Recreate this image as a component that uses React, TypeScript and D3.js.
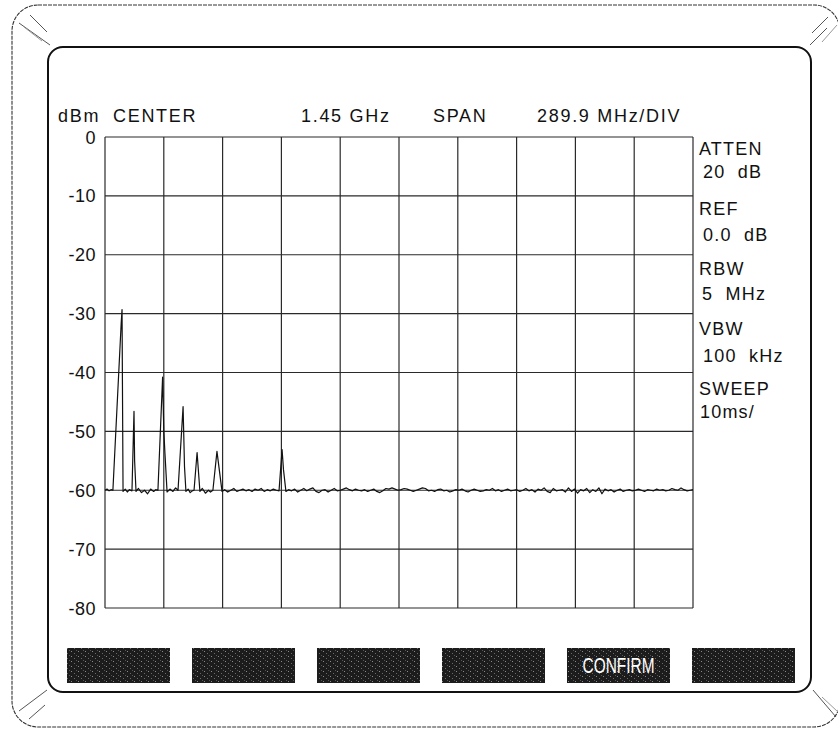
import React from "react";
import * as d3 from "d3";

// ---- data ----
const levelTicks = [0, -10, -20, -30, -40, -50, -60, -70, -80];
const freqDivisions = [0, 1, 2, 3, 4, 5, 6, 7, 8, 9, 10];
const spanPerDivMHz = 289.9;
const headerTexts = [
  { label: "dBm", x: 58 },
  { label: "CENTER", x: 113 },
  { label: "1.45 GHz", x: 301 },
  { label: "SPAN", x: 433 },
  { label: "289.9 MHz/DIV", x: 537 },
];
const sideLabels = [
  { label: "ATTEN", y: 155, indent: 0 },
  { label: "20  dB", y: 178, indent: 4 },
  { label: "REF", y: 215, indent: 0 },
  { label: "0.0  dB", y: 241, indent: 4 },
  { label: "RBW", y: 275, indent: 0 },
  { label: "5  MHz", y: 300, indent: 3 },
  { label: "VBW", y: 335, indent: 0 },
  { label: "100  kHz", y: 362, indent: 4 },
  { label: "SWEEP", y: 395, indent: 0 },
  { label: "10ms/", y: 418, indent: 1 },
];
const softKeys = ["", "", "", "", "CONFIRM", ""];

// trace: [frequency MHz, level dBm]
const trace: [number, number][] = [
  [0, -60.0], [10, -59.8], [20, -60.1], [30, -59.9], [39, -60.0], [80, -31.5], [84, -29.3], [86, -42], [89, -60.2],
  [100, -59.8], [110, -60.3], [120, -59.9], [133, -60.1], [143, -46.6], [146, -55], [153, -60.2], [165, -59.7],
  [180, -60.4], [195, -60.0], [210, -60.6], [225, -59.8], [240, -60.2], [250, -59.9], [261, -60.0], [284, -40.8],
  [290, -50], [296, -54], [306, -60.3], [320, -59.8], [335, -60.2], [348, -59.6], [360, -60.0], [385, -45.8],
  [392, -56], [399, -60.2], [410, -59.8], [420, -60.4], [430, -60.1], [439, -60.0], [454, -53.6], [468, -60.2],
  [480, -59.7], [495, -60.5], [510, -60.0], [520, -60.3], [532, -60.0], [552, -53.4], [577, -60.2], [590, -59.9],
  [605, -60.3], [620, -60.0], [635, -59.7], [650, -60.2], [665, -60.0], [680, -59.8], [695, -60.1], [710, -59.9],
  [725, -60.2], [740, -59.8], [755, -60.0], [770, -59.7], [785, -60.2], [800, -59.9], [815, -60.1], [830, -59.8],
  [845, -60.0], [858, -60.1], [873, -53.1], [880, -56.5], [892, -60.2], [905, -59.9], [920, -60.1], [935, -59.8],
  [950, -60.3], [965, -60.0], [980, -59.7], [995, -60.1], [1010, -59.8], [1025, -59.6], [1040, -60.2], [1055, -60.4],
  [1070, -60.0], [1085, -59.9], [1100, -60.3], [1115, -60.0], [1130, -59.7], [1145, -60.1], [1160, -60.0], [1175, -59.8],
  [1190, -59.6], [1205, -59.9], [1220, -60.1], [1235, -59.8], [1250, -60.0], [1265, -60.1], [1280, -59.9], [1295, -60.2],
  [1310, -60.0], [1325, -59.8], [1340, -60.2], [1355, -60.4], [1370, -60.1], [1385, -59.7], [1400, -59.8], [1415, -59.6],
  [1430, -59.8], [1445, -60.0], [1460, -59.9], [1475, -59.7], [1490, -59.8], [1505, -60.0], [1520, -60.2], [1535, -60.0],
  [1550, -59.8], [1565, -59.6], [1580, -59.7], [1595, -60.1], [1610, -60.0], [1625, -60.2], [1640, -59.9], [1655, -59.8],
  [1670, -60.1], [1685, -60.0], [1700, -60.3], [1715, -60.1], [1730, -59.9], [1745, -60.0], [1760, -59.8], [1775, -60.1],
  [1790, -60.3], [1805, -60.0], [1820, -59.8], [1835, -60.0], [1850, -60.2], [1865, -60.1], [1880, -59.9], [1895, -60.0],
  [1910, -59.7], [1925, -60.1], [1940, -59.9], [1955, -60.2], [1970, -60.0], [1985, -59.8], [2000, -60.1], [2015, -60.0],
  [2030, -59.9], [2045, -60.2], [2060, -60.0], [2075, -59.7], [2090, -60.1], [2105, -59.9], [2120, -60.3], [2135, -59.8],
  [2150, -60.0], [2165, -59.6], [2180, -60.2], [2195, -60.4], [2210, -59.7], [2225, -60.1], [2240, -60.0], [2255, -59.9],
  [2270, -60.3], [2285, -59.6], [2300, -60.2], [2315, -59.8], [2330, -60.5], [2345, -59.9], [2360, -60.1], [2375, -59.7],
  [2390, -60.4], [2405, -59.9], [2420, -60.2], [2435, -59.6], [2450, -60.6], [2465, -59.8], [2480, -60.1], [2495, -59.9],
  [2510, -60.3], [2525, -60.0], [2540, -59.8], [2555, -60.2], [2570, -60.0], [2585, -59.9], [2600, -60.1], [2615, -60.0],
  [2630, -59.8], [2645, -60.0], [2660, -60.2], [2675, -59.9], [2690, -60.0], [2705, -60.1], [2720, -59.8], [2735, -60.0],
  [2750, -59.9], [2765, -60.1], [2780, -60.0], [2795, -59.7], [2810, -59.9], [2825, -60.0], [2840, -59.6], [2855, -59.9],
  [2870, -60.1], [2885, -60.0], [2899, -59.9],
];

const W = 838;
const H = 729;
const FONT = "'Liberation Sans', Arial, Helvetica, sans-serif";

export default function App() {
  const x = d3.scaleLinear().domain([0, 10 * spanPerDivMHz]).range([105, 693]);
  const y = d3.scaleLinear().domain([-80, 0]).range([608, 137]);
  const line = d3
    .line<[number, number]>()
    .x((d) => x(d[0]))
    .y((d) => y(d[1]));

  const keyX = d3
    .scaleBand<number>()
    .domain(d3.range(softKeys.length))
    .range([67, 795])
    .paddingInner(0.176)
    .paddingOuter(0);

  return (
    <svg
      width={W}
      height={H}
      style={{ position: "absolute", left: 0, top: 0, background: "#fff" }}
      fontFamily={FONT}
    >
      <defs>
        <pattern id="speck" width="7" height="5" patternUnits="userSpaceOnUse">
          <rect width="7" height="5" fill="#1c1c1c" />
          <rect x="1" y="1" width="1" height="1" fill="#8a8a8a" />
          <rect x="4" y="3" width="1" height="1" fill="#6a6a6a" />
          <rect x="6" y="0" width="1" height="1" fill="#555" />
        </pattern>
      </defs>

      {/* bezel */}
      <rect x={12} y={5} width={828} height={722} rx={26} fill="none" stroke="#333" strokeWidth={1.1} strokeDasharray="4 1" />
      <rect x={48} y={47} width={763} height={645} rx={15} fill="none" stroke="#111" strokeWidth={2} />
      {/* glare strokes */}
      <g stroke="#555" strokeWidth={1}>
        <line x1={30} y1={15} x2={47} y2={32} />
        <line x1={19} y1={23} x2={50} y2={45} />
        <line x1={24} y1={27} x2={42} y2={41} stroke="#999" />
        <line x1={828} y1={17} x2={812} y2={33} />
        <line x1={827} y1={28} x2={810} y2={45} />
        <line x1={837} y1={25} x2={822} y2={42} stroke="#999" />
        <line x1={19} y1={711} x2={47} y2={690} />
        <line x1={29} y1={719} x2={45} y2={705} />
        <line x1={813} y1={690} x2={836} y2={717} />
        <line x1={822} y1={697} x2={838} y2={712} stroke="#999" />
      </g>

      {/* grid */}
      <g stroke="#2a2a2a" strokeWidth={1.2}>
        {levelTicks.map((t) => (
          <line key={"h" + t} x1={x(0)} x2={x(10 * spanPerDivMHz)} y1={y(t)} y2={y(t)} />
        ))}
        {freqDivisions.map((dv) => (
          <line key={"v" + dv} x1={x(dv * spanPerDivMHz)} x2={x(dv * spanPerDivMHz)} y1={y(0)} y2={y(-80)} />
        ))}
      </g>

      {/* y labels */}
      <g fontSize={18} fill="#111" textAnchor="end" letterSpacing={0.5}>
        {levelTicks.map((t) => (
          <text key={"l" + t} x={96} y={y(t) + 6.5}>
            {t === 0 ? "0" : "-" + Math.abs(t)}
          </text>
        ))}
      </g>

      {/* header */}
      <g fontSize={18} fill="#111" letterSpacing={1.7}>
        {headerTexts.map((h) => (
          <text key={h.label} x={h.x} y={122}>
            {h.label}
          </text>
        ))}
      </g>

      {/* side labels */}
      <g fontSize={18} fill="#111" letterSpacing={1.2} style={{ whiteSpace: "pre" }}>
        {sideLabels.map((s, i) => (
          <text key={i} x={699 + s.indent} y={s.y} xmlSpace="preserve">
            {s.label}
          </text>
        ))}
      </g>

      {/* trace */}
      <path d={line(trace) || ""} fill="none" stroke="#111" strokeWidth={1.2} strokeLinejoin="round" />

      {/* soft keys */}
      {softKeys.map((k, i) => (
        <g key={"k" + i}>
          <rect x={keyX(i)} y={648} width={keyX.bandwidth()} height={35} fill="url(#speck)" />
          {k && (
            <text
              x={(keyX(i) as number) + keyX.bandwidth() / 2}
              y={673}
              fill="#fff"
              fontSize={22}
              textAnchor="middle"
              textLength={72}
              lengthAdjust="spacingAndGlyphs"
            >
              {k}
            </text>
          )}
        </g>
      ))}
    </svg>
  );
}
